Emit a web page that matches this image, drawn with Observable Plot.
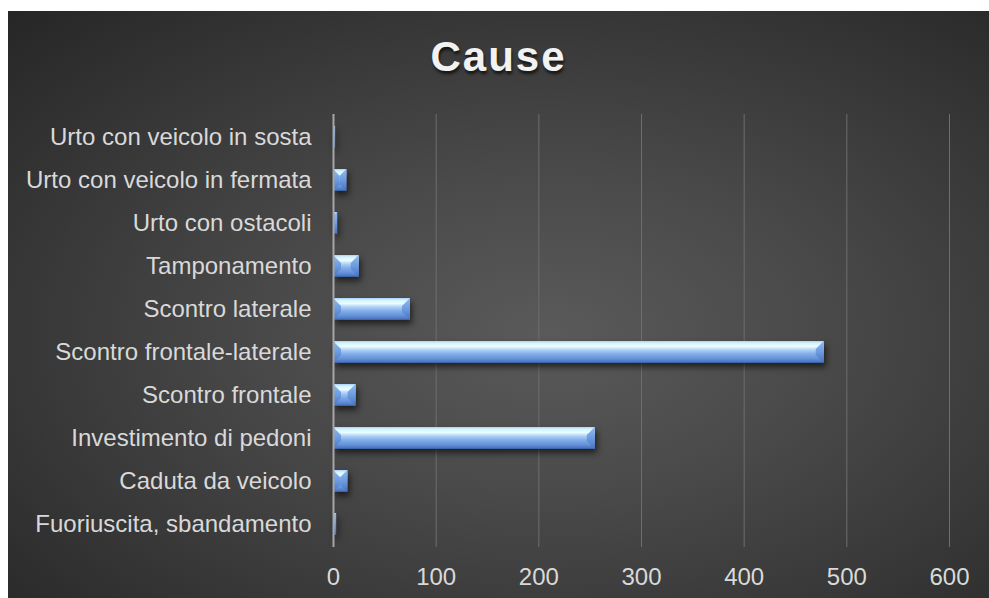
<!DOCTYPE html>
<html>
<head>
<meta charset="utf-8">
<script src="https://cdn.jsdelivr.net/npm/d3@7"></script>
<script src="https://cdn.jsdelivr.net/npm/@observablehq/plot@0.6"></script>
<style>
  html, body { margin: 0; padding: 0; background: #ffffff; }
  #chart {
    position: absolute; left: 8px; top: 11px; width: 981px; height: 587px; overflow: hidden;
    background: radial-gradient(ellipse farthest-corner at 55% 55%, #5a5a5a 0%, #4a4a4a 35%, #262626 100%);
    font-family: "Liberation Sans", Arial, sans-serif;
  }
  #title {
    height: 92px; line-height: 92px; text-align: center;
    color: #f2f2f2; font-size: 42px; font-weight: bold; letter-spacing: 2px;
    text-shadow: 1px 3px 3px rgba(0,0,0,0.65);
  }
  #plot svg { display: block; }
</style>
</head>
<body>
<div id="chart">
  <div id="title">Cause</div>
  <div id="plot"></div>
</div>
<script>
const categories = [
  "Urto con veicolo in sosta",
  "Urto con veicolo in fermata",
  "Urto con ostacoli",
  "Tamponamento",
  "Scontro laterale",
  "Scontro frontale-laterale",
  "Scontro frontale",
  "Investimento di pedoni",
  "Caduta da veicolo",
  "Fuoriuscita, sbandamento"
];
const values = [2, 13, 4, 25, 75, 478, 22, 255, 14, 3];
const xTicks = [0, 100, 200, 300, 400, 500, 600];

const data = categories.map((c, i) => ({cause: c, count: values[i]}));

function bevel(index, scales, vals, dims, ctx, next) {
  const g = next(index, scales, vals, dims, ctx);
  const ns = "http://www.w3.org/2000/svg";
  for (const r of Array.from(g.querySelectorAll("rect"))) {
    const x = +r.getAttribute("x"), y = +r.getAttribute("y");
    const w = +r.getAttribute("width"), h = +r.getAttribute("height");
    const b = Math.min(8, w / 2, h / 2);
    const L = document.createElementNS(ns, "polygon");
    L.setAttribute("points", `${x},${y} ${x + b},${y + b} ${x + b},${y + h - b} ${x},${y + h}`);
    L.setAttribute("fill", "url(#sideGrad)");
    const R = document.createElementNS(ns, "polygon");
    R.setAttribute("points", `${x + w},${y} ${x + w - b},${y + b} ${x + w - b},${y + h - b} ${x + w},${y + h}`);
    R.setAttribute("fill", "url(#sideGrad)");
    r.after(L, R);
  }
  return g;
}

const svg = Plot.plot({
  width: 981,
  height: 495,
  marginTop: 11,
  marginBottom: 51,
  marginLeft: 325,
  marginRight: 40,
  style: {
    background: "transparent",
    color: "#d9d9d9",
    fontFamily: "'Liberation Sans', Arial, sans-serif",
    fontSize: "24px",
    overflow: "visible"
  },
  x: {domain: [0, 600], ticks: xTicks, tickSize: 0, tickPadding: 20, label: null, tickFormat: d => String(d)},
  y: {domain: categories, paddingInner: 0.5, paddingOuter: 0.25, tickSize: 0, tickPadding: 22, label: null},
  marks: [
    Plot.ruleX(xTicks.filter(d => d > 0), {stroke: "#6e6e6e", strokeWidth: 1}),
    Plot.barX(data, {
      x: "count", y: "cause", fill: "url(#barGrad)",
      imageFilter: "drop-shadow(2px 4px 3px rgba(0,0,0,0.6))",
      render: bevel
    }),
    Plot.ruleX([0], {stroke: "#a6a6a6", strokeWidth: 2})
  ]
});

const defs = d3.select(svg).insert("defs", ":first-child");
const g1 = defs.append("linearGradient").attr("id", "barGrad").attr("x1", 0).attr("y1", 0).attr("x2", 0).attr("y2", 1);
[[0, "#a9d0fb"], [0.1, "#d6f4ff"], [0.25, "#e9fdff"], [0.42, "#abcef6"], [0.58, "#84afea"], [0.8, "#6592da"], [0.94, "#4c78c2"], [1, "#36599a"]]
  .forEach(([o, c]) => g1.append("stop").attr("offset", o).attr("stop-color", c));
const g2 = defs.append("linearGradient").attr("id", "sideGrad").attr("x1", 0).attr("y1", 0).attr("x2", 0).attr("y2", 1);
[[0, "#8fb9f0"], [0.5, "#6d9be0"], [1, "#4672bb"]]
  .forEach(([o, c]) => g2.append("stop").attr("offset", o).attr("stop-color", c));

document.getElementById("plot").appendChild(svg);
</script>
</body>
</html>
